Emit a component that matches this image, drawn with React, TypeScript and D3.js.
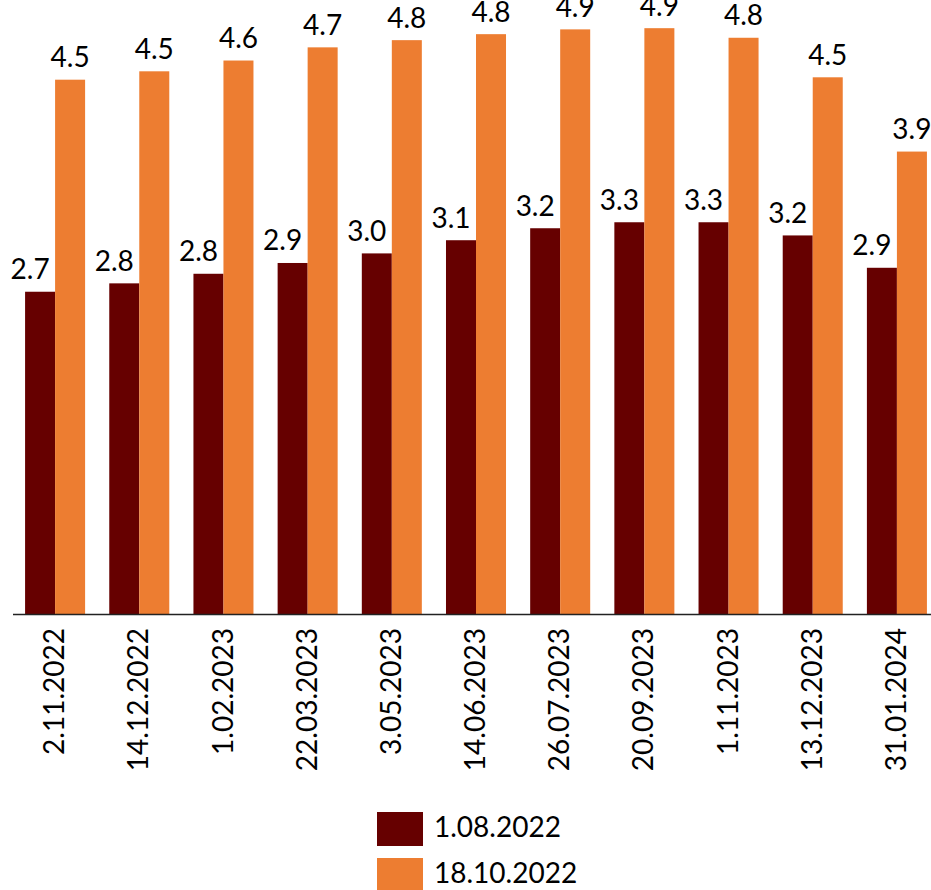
import React from "react";
import * as d3 from "d3";

const categories = [
  "2.11.2022", "14.12.2022", "1.02.2023", "22.03.2023", "3.05.2023", "14.06.2023",
  "26.07.2023", "20.09.2023", "1.11.2023", "13.12.2023", "31.01.2024",
];
const seriesNames = ["1.08.2022", "18.10.2022"];
const seriesA = [2.69, 2.76, 2.84, 2.93, 3.01, 3.12, 3.22, 3.27, 3.27, 3.16, 2.89];
const seriesB = [4.46, 4.53, 4.62, 4.73, 4.79, 4.84, 4.88, 4.89, 4.81, 4.48, 3.86];
const colors = ["#660000", "#ED7D31"];

const W = 931;
const H = 890;
const FONT = "Lato, 'Open Sans', sans-serif";

export default function App() {
  const baseY = 614;
  const x0 = d3.scaleBand<string>().domain(categories).range([13, 939]).paddingInner(0.287).paddingOuter(0.1435);
  const x1 = d3.scaleBand<number>().domain([0, 1]).range([0, x0.bandwidth()]);
  const y = d3.scaleLinear().domain([0, 614 / 119.8]).range([baseY, 0]);
  const fmt = d3.format(".1f");
  const series = [seriesA, seriesB];
  const labelShift = [-10, 0];

  return (
    <svg width={W} height={H} style={{ position: "absolute", left: 0, top: 0, background: "#fff" }}>
      {categories.map((c, i) => (
        <g key={c}>
          {series.map((s, k) => {
            const bx = (x0(c) as number) + (x1(k) as number);
            const bw = x1.bandwidth();
            return (
              <g key={k}>
                <rect x={bx} y={y(s[i])} width={bw} height={baseY - y(s[i])} fill={colors[k]} />
                <text
                  x={bx + bw / 2 + labelShift[k]}
                  y={y(s[i]) - 12.5}
                  textAnchor="middle"
                  fontFamily={FONT}
                  fontSize={28}
                  fill="#000"
                >
                  {fmt(s[i])}
                </text>
              </g>
            );
          })}
          <text
            transform={`translate(${(x0(c) as number) + x0.bandwidth() / 2 - 1},628) rotate(-90)`}
            textAnchor="end"
            dy="0.36em"
            fontFamily={FONT}
            fontSize={28}
            fill="#000"
          >
            {c}
          </text>
        </g>
      ))}
      <line x1={13} x2={W} y1={baseY + 0.5} y2={baseY + 0.5} stroke="#222" strokeWidth={1.5} />
      {seriesNames.map((n, k) => (
        <g key={n}>
          <rect x={377} y={812 + k * 46} width={46} height={34} fill={colors[k]} />
          <text x={434} y={837 + k * 46} fontFamily={FONT} fontSize={28} fill="#000">
            {n}
          </text>
        </g>
      ))}
    </svg>
  );
}
